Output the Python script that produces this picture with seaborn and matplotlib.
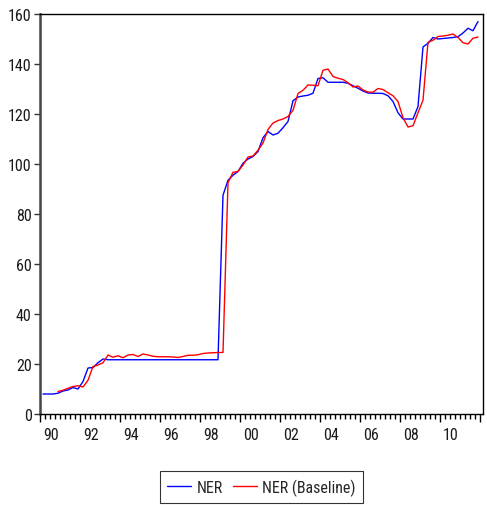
import numpy as np
import pandas as pd
import matplotlib
matplotlib.use("Agg")
import matplotlib.pyplot as plt
from matplotlib import font_manager
import seaborn as sns

# Quarterly observations, 1990Q1 .. 2011Q4
start_year = 1990
n_quarters = 88

ner = [
    8.0, 8.0, 8.0, 8.3, 9.2, 9.6, 10.6, 10.0, 13.0, 18.4,
    18.6, 20.5, 22.0, 21.7, 21.7, 21.7, 21.7, 21.7, 21.7, 21.7,
    21.7, 21.7, 21.7, 21.7, 21.7, 21.7, 21.7, 21.7, 21.7, 21.7,
    21.7, 21.7, 21.7, 21.7, 21.7, 21.7, 87.5, 93.5, 95.5, 97.0,
    100.3, 102.0, 103.0, 105.0, 110.5, 113.0, 111.6, 112.3, 114.5, 117.0,
    125.3, 126.8, 127.2, 127.5, 128.3, 134.2, 134.5, 132.7, 132.7, 132.7,
    132.7, 132.3, 131.3, 130.3, 129.2, 128.4, 128.3, 128.3, 128.2, 127.3,
    125.0, 120.5, 118.0, 118.0, 118.0, 123.0, 146.8, 148.3, 150.6, 150.0,
    150.2, 150.4, 150.6, 150.9, 152.4, 154.3, 153.3, 157.0,
]

ner_baseline = [
    np.nan, np.nan, np.nan, 9.0, 9.5, 10.3, 11.0, 11.3, 10.8, 13.5,
    19.0, 19.6, 20.5, 23.6, 22.7, 23.3, 22.5, 23.6, 23.8, 23.0,
    24.0, 23.6, 23.1, 22.9, 22.9, 22.9, 22.8, 22.6, 23.0, 23.5,
    23.5, 23.7, 24.2, 24.4, 24.5, 24.6, 24.6, 92.5, 96.7, 97.0,
    99.6, 102.8, 103.2, 105.5, 108.4, 113.8, 116.4, 117.4, 118.0, 119.0,
    121.5, 128.2, 129.5, 131.6, 131.5, 131.3, 137.5, 138.0, 135.0, 134.3,
    133.8, 132.5, 130.8, 131.2, 129.6, 128.8, 128.7, 130.2, 129.8, 128.5,
    127.3, 125.0, 118.5, 114.8, 115.3, 120.5, 125.5, 148.7, 149.5, 151.0,
    151.2, 151.5, 152.0, 150.6, 148.5, 148.0, 150.3, 150.8,
]

year_labels = ["90", "92", "94", "96", "98", "00", "02", "04", "06", "08", "10"]
y_ticks = [0, 20, 40, 60, 80, 100, 120, 140, 160]

time = start_year + 0.15 + 0.25 * np.arange(n_quarters)
df = pd.DataFrame({
    "time": np.concatenate([time, time]),
    "value": np.concatenate([ner, ner_baseline]),
    "series": ["NER"] * n_quarters + ["NER (Baseline)"] * n_quarters,
})

# pick a narrow sans face if one is available
installed = {f.name for f in font_manager.fontManager.ttflist}
narrow = "DejaVu Sans"
for cand in ["Liberation Sans Narrow", "Roboto Condensed", "Open Sans Condensed",
             "Noto Sans Condensed"]:
    if cand in installed:
        narrow = cand
        break

sns.set_style("white")
plt.rcParams["font.family"] = [narrow, "DejaVu Sans"]
plt.rcParams["font.stretch"] = "condensed"

fig = plt.figure(figsize=(4.87, 5.06), dpi=100)
ax = fig.add_axes([40 / 487, 1 - 415 / 506, 443 / 487, 400 / 506])

sns.lineplot(data=df, x="time", y="value", hue="series",
             palette={"NER": "#0000ff", "NER (Baseline)": "#ff0000"},
             linewidth=1.0, ax=ax, legend=False, estimator=None, sort=False)

ax.set_xlim(1990, 2012.15)
ax.set_ylim(0, 160)
ax.set_xlabel("")
ax.set_ylabel("")

label_font = dict(fontsize=11.5, color="#1a1a1a")

# x axis: major ticks every two years, minor ticks every quarter, labels mid-year
major_years = np.arange(1990, 2013, 2)
ax.set_xticks(major_years)
ax.set_xticks(np.arange(1990, 2012.2, 0.25), minor=True)
ax.tick_params(axis="x", which="major", direction="out", length=6, width=1.0,
               color="black", bottom=True, labelbottom=False)
ax.tick_params(axis="x", which="minor", direction="out", length=3.5, width=1.0,
               color="black", bottom=True)
for yr, lab in zip(major_years, year_labels):
    ax.annotate(lab, xy=(yr + 0.55, 0), xycoords="data",
                xytext=(0, -9), textcoords="offset points",
                ha="center", va="top", **label_font)

ax.set_yticks(y_ticks)
ax.set_yticklabels([str(v) for v in y_ticks], **label_font)
ax.tick_params(axis="y", which="major", direction="out", length=4, width=1.0,
               color="#333333", pad=2, left=True)

for side in ["top", "right", "bottom"]:
    ax.spines[side].set_color("black")
    ax.spines[side].set_linewidth(1.0)
ax.spines["left"].set_color("#444444")
ax.spines["left"].set_linewidth(1.8)

handles = [plt.Line2D([], [], color="#0000ff", lw=1.0),
           plt.Line2D([], [], color="#ff0000", lw=1.0)]
leg = fig.legend(handles, ["NER", "NER (Baseline)"], loc="center",
                 bbox_to_anchor=(261.5 / 487, 1 - 488 / 506), ncol=2,
                 frameon=True, fancybox=False,
                 prop=dict(size=11.5),
                 handlelength=1.5, handletextpad=0.35, columnspacing=0.6,
                 borderpad=0.45, borderaxespad=0)
leg.get_frame().set_edgecolor("black")
leg.get_frame().set_linewidth(0.8)

fig.savefig("out.png", dpi=100)
